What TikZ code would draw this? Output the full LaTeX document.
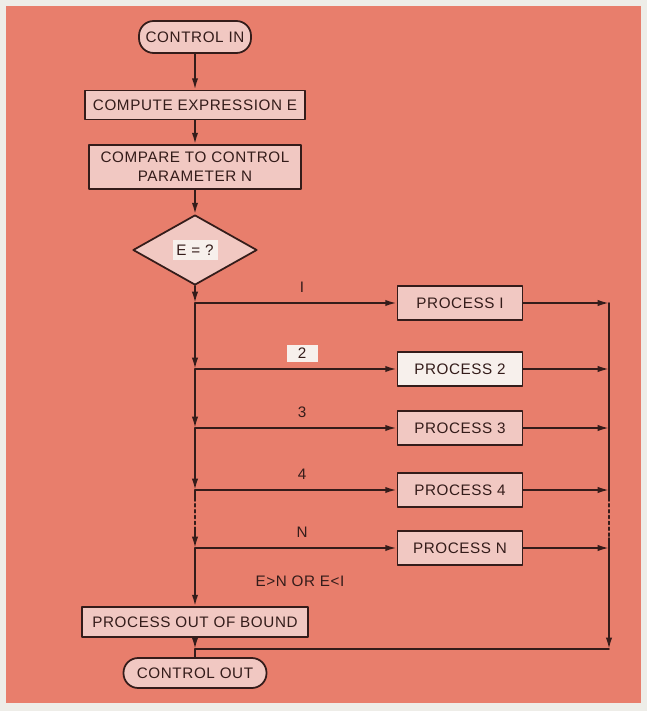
\documentclass[tikz,border=0pt]{standalone}
\usepackage{fontspec}
\setmainfont[LetterSpace=4]{Liberation Sans}
\usetikzlibrary{arrows.meta, shapes.geometric}

\definecolor{margin}{RGB}{238,237,232}
\definecolor{panel}{RGB}{232,126,108}
\definecolor{boxfill}{RGB}{241,200,194}
\definecolor{palefill}{RGB}{247,240,236}
\definecolor{ink}{RGB}{52,28,26}

\begin{document}
\begin{tikzpicture}[
  x=0.03cm,
  y=-0.03cm,
  line cap=round,
  line join=round,
  every node/.style={text=ink,font=\fontsize{13}{16}\selectfont},
  flow/.style={draw=ink,line width=1.5pt,-{Latex[length=3.4mm,width=1.9mm]}},
  link/.style={draw=ink,line width=1.5pt},
  dots/.style={draw=ink,line width=1.5pt,dash pattern=on 2.5pt off 2.5pt},
  stepbox/.style={draw=ink,fill=boxfill,line width=1.5pt,inner sep=0pt,align=center},
  palebox/.style={stepbox,fill=palefill},
  terminal/.style={stepbox,rounded corners=0.44cm},
  decision/.style={stepbox,shape=diamond,minimum width=3.72cm,minimum height=2.1cm},
  tag/.style={inner sep=1pt},
  paletag/.style={fill=palefill,inner sep=0pt,minimum width=0.93cm,minimum height=0.51cm}
]

  % Page margin and coloured panel
  \useasboundingbox (0,0) rectangle (647,711);
  \fill[margin] (0,0) rectangle (647,711);
  \fill[panel] (6,6) rectangle (641,703);

  % Left column of the flow chart
  \node[terminal,minimum width=3.36cm,minimum height=0.96cm] (cin) at (195,37)
    {CONTROL IN};
  \node[stepbox,minimum width=6.6cm,minimum height=0.87cm] (comp) at (195,105)
    {COMPUTE EXPRESSION E};
  \node[stepbox,minimum width=6.36cm,minimum height=1.32cm] (cmp) at (195,167)
    {COMPARE TO CONTROL\\PARAMETER N};
  \node[decision] (dia) at (195,250) {};
  \node[paletag,minimum width=1.35cm,minimum height=0.6cm] (ask) at (195,250)
    {E = ?};

  \draw[flow] (cin) -- (comp);
  \draw[flow] (comp) -- (cmp);
  \draw[flow] (cmp) -- (dia);

  % One branch for each value of E
  \foreach \i/\yy/\tag/\look/\tagstyle in {1/303/I/stepbox/tag,
                                            2/369/2/palebox/paletag,
                                            3/428/3/stepbox/tag,
                                            4/490/4/stepbox/tag,
                                            n/548/N/stepbox/tag} {
    \coordinate (j\i) at (195,\yy);
    \coordinate (r\i) at (609,\yy);
    \node[\look,minimum width=3.75cm,minimum height=1cm] (p\i) at (460,\yy)
      {PROCESS \tag};
    \node[\tagstyle] (t\i) at (302,\yy-16) {\tag};
    \draw[flow] (j\i) -- (p\i);
    \draw[flow] (p\i) -- (r\i);
  }

  % Trunk down the left side, broken between 4 and N
  \coordinate (trunkdota) at (195,498);
  \coordinate (trunkdotb) at (195,528);
  \draw[flow] (dia) -- (j1);
  \draw[flow] (j1) -- (j2);
  \draw[flow] (j2) -- (j3);
  \draw[flow] (j3) -- (j4);
  \draw[link] (j4) -- (trunkdota);
  \draw[dots] (trunkdota) -- (trunkdotb);
  \draw[flow] (trunkdotb) -- (jn);

  % Out of bound case
  \node[stepbox,minimum width=6.78cm,minimum height=0.9cm] (oob) at (195,622)
    {PROCESS OUT OF BOUND};
  \node (bound) at (300,581) {E>N OR E<I};
  \draw[flow] (jn) -- (oob);

  % Return line on the right side
  \coordinate (rdota) at (609,498);
  \coordinate (rdotb) at (609,538);
  \coordinate (rbot) at (609,649);
  \coordinate (jout) at (195,649);
  \draw[link] (r1) -- (rdota);
  \draw[dots] (rdota) -- (rdotb);
  \draw[flow] (rdotb) -- (rbot);
  \draw[link] (rbot) -- (jout);

  \node[terminal,minimum width=4.29cm,minimum height=0.9cm] (cout) at (195,673)
    {CONTROL OUT};
  \draw[flow] (oob) -- (jout);
  \draw[link] (jout) -- (cout);

\end{tikzpicture}
\end{document}
